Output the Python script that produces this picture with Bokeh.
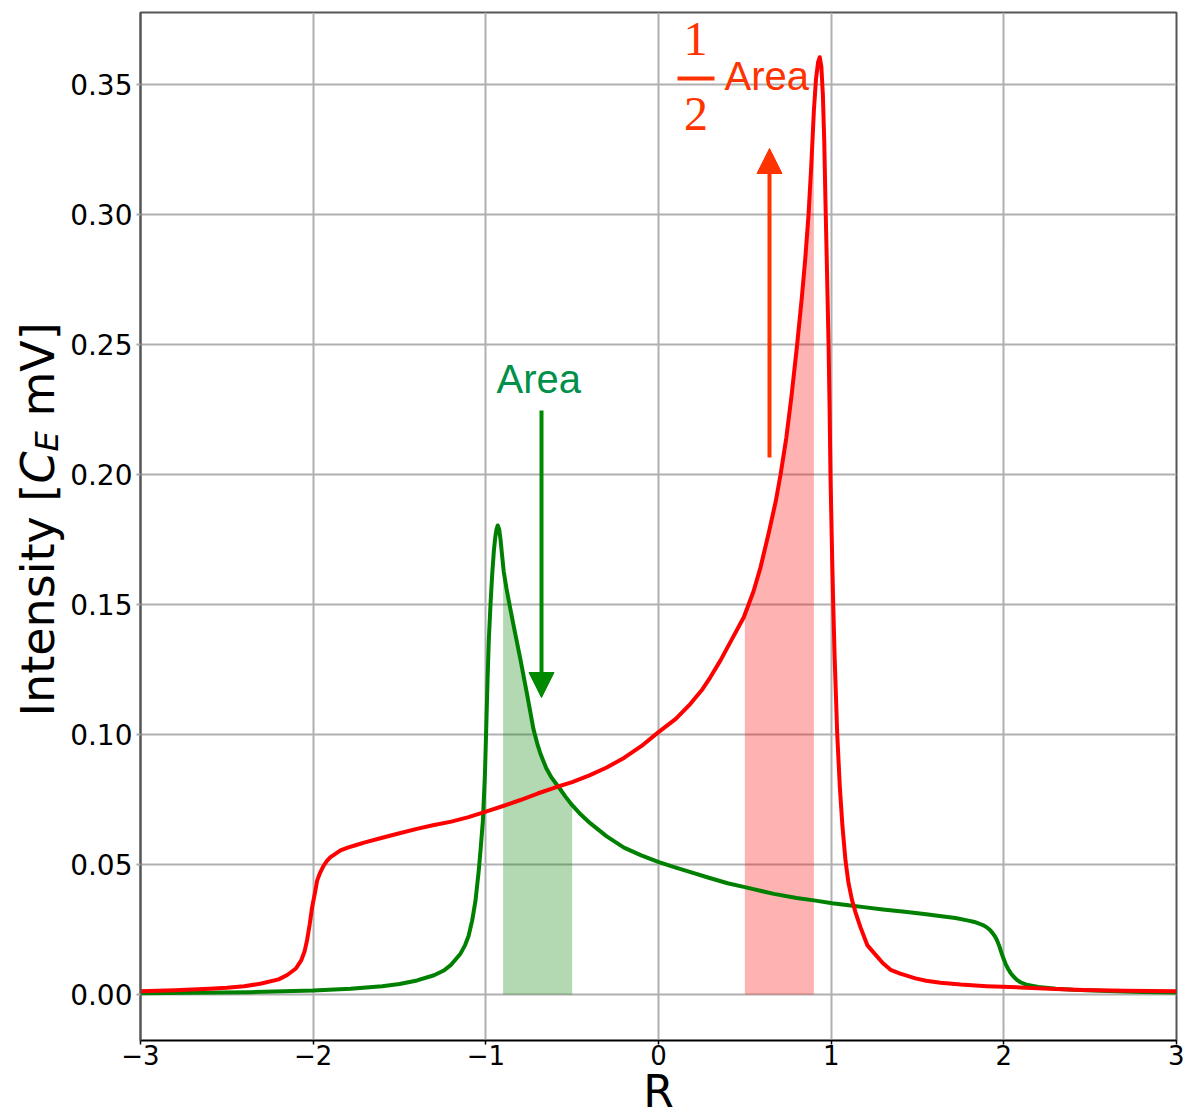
import numpy as np
from bokeh.plotting import figure
from bokeh.models import FixedTicker, Label, Arrow, NormalHead
from bokeh.layouts import row
from bokeh.embed import file_html
from bokeh.resources import INLINE

# ---------------- data ----------------
red_x = [-3.0, -2.8, -2.6, -2.5, -2.4, -2.3, -2.2, -2.15, -2.1, -2.07,
         -2.05, -2.035, -2.02, -2.006, -1.99, -1.977, -1.96, -1.94, -1.919, -1.9,
         -1.88, -1.842, -1.8, -1.75, -1.7, -1.6, -1.5, -1.4, -1.3, -1.2,
         -1.1, -1.0, -0.9, -0.8, -0.7, -0.6, -0.5, -0.4, -0.3, -0.2,
         -0.1, 0.0, 0.1, 0.185, 0.25, 0.3, 0.359, 0.42, 0.494, 0.55,
         0.591, 0.64, 0.68, 0.707, 0.74, 0.77, 0.803, 0.83, 0.85, 0.869,
         0.885, 0.90, 0.912, 0.924, 0.934, 0.943, 0.952, 0.96, 0.967, 0.976,
         0.985, 0.991, 0.996, 1.006, 1.012, 1.02, 1.035, 1.05, 1.065, 1.083,
         1.1, 1.12, 1.14, 1.17, 1.209, 1.25, 1.3, 1.344, 1.4, 1.488,
         1.55, 1.633, 1.75, 1.9, 2.096, 2.3, 2.46, 2.7, 3.0]
red_y = [0.0012, 0.0016, 0.0022, 0.0026, 0.0032, 0.0042, 0.0058, 0.0075, 0.0100, 0.0130,
         0.0165, 0.0210, 0.0270, 0.0336, 0.0390, 0.0438, 0.0468, 0.0495, 0.0515, 0.0528,
         0.0537, 0.0554, 0.0565, 0.0575, 0.0585, 0.0603, 0.0620, 0.0637, 0.0652, 0.0665,
         0.0682, 0.0703, 0.0725, 0.0748, 0.0773, 0.0796, 0.0817, 0.0843, 0.0873, 0.0910,
         0.0955, 0.1009, 0.1060, 0.1118, 0.1170, 0.1220, 0.1285, 0.1360, 0.1451, 0.1550,
         0.1643, 0.1780, 0.1900, 0.2000, 0.2140, 0.2300, 0.2500, 0.2680, 0.2830, 0.3000,
         0.3190, 0.3400, 0.3520, 0.3585, 0.3605, 0.3570, 0.3460, 0.3280, 0.3050, 0.2780,
         0.2500, 0.2250, 0.2000, 0.1670, 0.1500, 0.1300, 0.1003, 0.0800, 0.0650, 0.0515,
         0.0430, 0.0365, 0.0318, 0.0258, 0.0190, 0.0158, 0.0120, 0.0095, 0.0080, 0.0062,
         0.0053, 0.0045, 0.0038, 0.0032, 0.0027, 0.0021, 0.0017, 0.0014, 0.0012]

green_x = [-3.0, -2.7, -2.363, -2.0, -1.784, -1.6, -1.5, -1.398, -1.3, -1.243,
           -1.2, -1.147, -1.12, -1.1, -1.079, -1.06, -1.041, -1.03, -1.017, -1.005,
           -0.996, -0.99, -0.983, -0.973, -0.963, -0.953, -0.945, -0.938, -0.931, -0.923,
           -0.915, -0.906, -0.896, -0.88, -0.863, -0.838, -0.8, -0.76, -0.724, -0.70,
           -0.683, -0.65, -0.62, -0.6, -0.577, -0.54, -0.5, -0.45, -0.394, -0.3,
           -0.2, -0.1, 0.002, 0.1, 0.2, 0.282, 0.4, 0.5, 0.668, 0.8,
           0.9, 1.006, 1.1, 1.2, 1.3, 1.44, 1.55, 1.65, 1.72, 1.788,
           1.83, 1.86, 1.885, 1.904, 1.92, 1.935, 1.95, 1.962, 1.975, 1.985,
           1.997, 2.01, 2.025, 2.04, 2.06, 2.08, 2.096, 2.13, 2.2, 2.3,
           2.4, 2.6, 2.8, 3.0]
green_y = [0.0005, 0.0007, 0.0009, 0.0015, 0.0022, 0.0032, 0.0040, 0.0054, 0.0074, 0.0092,
           0.0115, 0.0157, 0.0190, 0.0225, 0.0285, 0.0360, 0.0477, 0.0560, 0.0669, 0.0850,
           0.1067, 0.1210, 0.1360, 0.1500, 0.1618, 0.1710, 0.1760, 0.1790, 0.1804, 0.1790,
           0.1750, 0.1690, 0.1625, 0.1560, 0.1500, 0.1415, 0.1290, 0.1150, 0.1020, 0.0960,
           0.0925, 0.0870, 0.0835, 0.0817, 0.0797, 0.0762, 0.0728, 0.0692, 0.0658, 0.0608,
           0.0565, 0.0535, 0.0509, 0.0488, 0.0468, 0.0451, 0.0428, 0.0413, 0.0387, 0.0371,
           0.0362, 0.0351, 0.0343, 0.0335, 0.0327, 0.0317, 0.0309, 0.0300, 0.0294, 0.0285,
           0.0279, 0.0272, 0.0265, 0.0257, 0.0248, 0.0236, 0.0222, 0.0206, 0.0184, 0.0163,
           0.0140, 0.0118, 0.0098, 0.0082, 0.0066, 0.0054, 0.0047, 0.0038, 0.0029, 0.0022,
           0.0018, 0.0013, 0.0010, 0.0008]

green_band = [-0.9, -0.5]
red_band = [0.5, 0.9]

x_ticks = [-3, -2, -1, 0, 1, 2, 3]
x_tick_labels = ["−3", "−2", "−1", "0", "1", "2", "3"]
y_ticks = [0.0, 0.05, 0.10, 0.15, 0.20, 0.25, 0.30, 0.35]
y_tick_labels = ["0.00", "0.05", "0.10", "0.15", "0.20", "0.25", "0.30", "0.35"]

# ---------------- page geometry ----------------
W, H = 1184, 1118
YL_W = 66            # strip holding the rotated y title
MAIN_W = W - YL_W
FL, FT, FB = 140, 12, 1040     # frame edges in page pixels
FR_EDGE = 1176
X0, X1 = -3.0, 3.0
Y0, Y1 = -0.0177, 0.3777

def px2x(px):
    return X0 + (px - FL) / (FR_EDGE - FL) * (X1 - X0)
def py2y(py):
    return Y1 - (py - FT) / (FB - FT) * (Y1 - Y0)

p = figure(width=MAIN_W, height=H, x_range=(X0, X1), y_range=(Y0, Y1),
           output_backend="svg", toolbar_location=None,
           min_border_left=FL - YL_W, min_border_right=W - FR_EDGE, min_border_top=FT,
           min_border_bottom=H - FB)
p.background_fill_color = "white"
p.border_fill_color = "white"
p.outline_line_color = "#555555"
p.outline_line_width = 2

p.xaxis.ticker = FixedTicker(ticks=x_ticks)
p.yaxis.ticker = FixedTicker(ticks=y_ticks)
p.xaxis.major_label_overrides = {t: l for t, l in zip(x_ticks, x_tick_labels)}
p.yaxis.major_label_overrides = {t: l for t, l in zip(y_ticks, y_tick_labels)}
p.xaxis.minor_tick_line_color = None
p.yaxis.minor_tick_line_color = None
p.xaxis.major_tick_in = 0
p.yaxis.major_tick_in = 0
p.xaxis.major_tick_out = 4
p.yaxis.major_tick_out = 4
p.xaxis.major_tick_line_color = "black"
p.xaxis.major_tick_line_width = 1.5
p.yaxis.major_tick_line_color = "#aaaaaa"
p.yaxis.major_tick_line_width = 2
p.xaxis.axis_line_color = "black"
p.xaxis.axis_line_width = 1.5
p.yaxis.axis_line_color = "#555555"
p.yaxis.axis_line_width = 2
p.xaxis.major_label_text_font = "DejaVu Sans"
p.yaxis.major_label_text_font = "DejaVu Sans"
p.xaxis.major_label_text_font_size = "26px"
p.yaxis.major_label_text_font_size = "28px"
p.xaxis.major_label_text_color = "black"
p.yaxis.major_label_text_color = "black"
p.xaxis.major_label_standoff = 0
p.yaxis.major_label_standoff = 4

p.grid.grid_line_color = "#b0b0b0"
p.grid.grid_line_width = 2

# ---------------- fills ----------------
def band(xa, ya, lo, hi):
    xa = np.asarray(xa, float)
    ya = np.asarray(ya, float)
    m = (xa > lo) & (xa < hi)
    xs = np.concatenate([[lo], xa[m], [hi]])
    ys = np.concatenate([[np.interp(lo, xa, ya)], ya[m], [np.interp(hi, xa, ya)]])
    return xs, ys

gx, gy = band(green_x, green_y, *green_band)
p.varea(x=gx, y1=np.zeros_like(gx), y2=gy, fill_color="green", fill_alpha=0.3)
rx, ry = band(red_x, red_y, *red_band)
p.varea(x=rx, y1=np.zeros_like(rx), y2=ry, fill_color="red", fill_alpha=0.3)

# ---------------- curves ----------------
p.line(green_x, green_y, line_color="green", line_width=4, line_join="round")
p.line(red_x, red_y, line_color="red", line_width=4, line_join="round")

# ---------------- annotations ----------------
GREEN_TXT = "#00904a"
GREEN_ARR = "#008a00"
RED_TXT = "#ff3300"
SANS_SHIFT = 15    # label baseline correction (px) for 40px sans
SERIF_SHIFT = 17   # for 48px serif

p.add_layout(Label(x=px2x(496), y=py2y(393 - SANS_SHIFT), text="Area", text_font="Liberation Sans",
                   text_font_size="40px", text_color=GREEN_TXT, text_align="left",
                   text_baseline="alphabetic"))
p.add_layout(Arrow(x_start=px2x(541), y_start=py2y(410), x_end=px2x(541), y_end=py2y(697),
                   line_color=GREEN_ARR, line_width=4,
                   end=NormalHead(size=25, fill_color=GREEN_ARR, line_color=GREEN_ARR, line_width=1)))

p.add_layout(Arrow(x_start=px2x(769), y_start=py2y(457), x_end=px2x(769), y_end=py2y(148),
                   line_color=RED_TXT, line_width=4,
                   end=NormalHead(size=25, fill_color=RED_TXT, line_color=RED_TXT, line_width=1)))

p.add_layout(Label(x=px2x(695), y=py2y(55 - SERIF_SHIFT), text="1", text_font="Liberation Serif",
                   text_font_size="48px", text_color=RED_TXT, text_align="center",
                   text_baseline="alphabetic"))
p.add_layout(Label(x=px2x(695.5), y=py2y(130 - SERIF_SHIFT), text="2", text_font="Liberation Serif",
                   text_font_size="48px", text_color=RED_TXT, text_align="center",
                   text_baseline="alphabetic"))
p.segment(x0=[px2x(677)], y0=[py2y(78)], x1=[px2x(714)], y1=[py2y(78)],
          line_color=RED_TXT, line_width=4)
p.add_layout(Label(x=px2x(724), y=py2y(90 - SANS_SHIFT), text="Area", text_font="Liberation Sans",
                   text_font_size="40px", text_color=RED_TXT, text_align="left",
                   text_baseline="alphabetic"))

# x title placed in the panel below the frame
p.add_layout(Label(x=px2x(658), y=py2y(1106 - 15), text="R", text_font="DejaVu Sans",
                   text_font_size="44px", text_color="black", text_align="center",
                   text_baseline="alphabetic"), "below")

# ---------------- y title strip ----------------
# its frame is aligned with the main frame (page y FT..FB), so map page pixels onto it
yl = figure(width=YL_W, height=H, x_range=(0, YL_W), y_range=(H - FB, H - FT),
            output_backend="svg", toolbar_location=None, x_axis_type=None, y_axis_type=None,
            min_border=0, min_border_left=0, min_border_right=0,
            min_border_top=0, min_border_bottom=0)
yl.outline_line_color = None
yl.background_fill_color = "white"
yl.border_fill_color = "white"

LBL_FS = 46
SUB_FS = 32
# (text, start along the text in page y, style, font size, centre across the text in page x)
parts = [
    ("Intensity [", 716, "normal", LBL_FS, 53 - 0.346 * LBL_FS),
    ("C", 483, "italic", LBL_FS, 53 - 0.346 * LBL_FS),
    ("E", 451, "italic", SUB_FS, 58 - 0.346 * SUB_FS),
    ("mV]", 416, "normal", LBL_FS, 53 - 0.346 * LBL_FS),
]
for txt, sy, style, fs, cx in parts:
    yl.add_layout(Label(x=cx, y=H - sy, text=txt, text_font="DejaVu Sans",
                        text_font_style=style, text_font_size=f"{fs}px", text_color="black",
                        angle=90, angle_units="deg", text_align="left",
                        text_baseline="middle"))

layout = row(yl, p, spacing=0)
open("out.html", "w").write(file_html(layout, INLINE))
